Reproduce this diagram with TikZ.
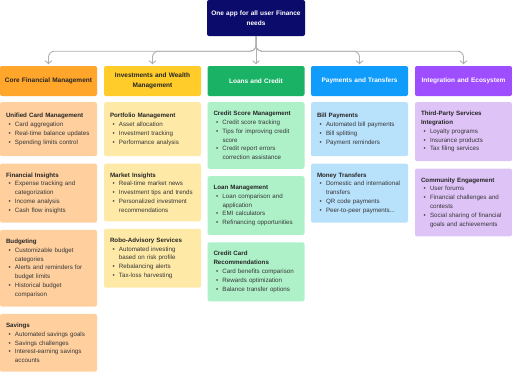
\documentclass[tikz,border=0pt]{standalone}
\usepackage{fontspec}
\setmainfont{Liberation Sans}
\usetikzlibrary{arrows.meta, positioning}

\definecolor{rootblue}{HTML}{0B0B6B}
\definecolor{coreor}{HTML}{FFA62B}
\definecolor{corelt}{HTML}{FFCF9E}
\definecolor{invye}{HTML}{FFCC2A}
\definecolor{invlt}{HTML}{FFE9A6}
\definecolor{loangr}{HTML}{1AB265}
\definecolor{loanlt}{HTML}{AEF1C9}
\definecolor{paybl}{HTML}{109CFA}
\definecolor{paylt}{HTML}{B8E1FC}
\definecolor{intpu}{HTML}{9E4DFF}
\definecolor{intlt}{HTML}{DEC3F7}
\definecolor{conngray}{HTML}{B0B0B0}
\definecolor{leaftext}{HTML}{363636}

% title and bullet lines inside a leaf box
\newcommand{\ttl}[1]{{\bfseries\color{black!85}#1}}
\newcommand{\itm}[1]{\par\hangindent=9pt\hangafter=1\noindent\makebox[9pt][l]{\hspace{2.5pt}\textbullet}#1\par}
\newcommand{\nl}{\hfil\break}

\tikzset{
  rootbox/.style={fill=rootblue, text=white, rounded corners=2pt, minimum width=98pt,
    minimum height=36pt, text width=90pt, align=center, inner sep=0pt,
    font=\fontsize{6.5}{9.5}\selectfont\bfseries},
  cat/.style={fill=#1, rounded corners=2pt, minimum width=97pt, minimum height=30pt,
    text width=88pt, align=center, inner sep=0pt, font=\fontsize{6.5}{9.5}\selectfont\bfseries},
  leaf/.style={fill=#1, rounded corners=2pt, text width=85pt, inner xsep=6pt,
    inner ysep=9pt, minimum height=54pt, align=left, text=leaftext, anchor=north,
    font=\fontsize{6.2}{8.8}\selectfont},
  conn/.style={draw=conngray, line width=0.9pt, rounded corners=6pt,
    -{Straight Barb[length=3pt,width=6.5pt]}, shorten >=1.5pt},
}

\begin{document}
\begin{tikzpicture}[x=1pt,y=-1pt]
  \useasboundingbox (0,0) rectangle (512,373);

  \node[rootbox] (app) at (256,18) {One app for all user Finance\\needs};

  \node[cat=coreor, text=black!85] (core) at (48.5,81) {Core Financial Management};
  \node[cat=invye, text=black!85] (inv) at (152.5,81) {Investments and Wealth\\Management};
  \node[cat=loangr, text=white] (loan) at (256,81) {Loans and Credit};
  \node[cat=paybl, text=white] (pay) at (359.5,81) {Payments and Transfers};
  \node[cat=intpu, text=white] (integ) at (463.5,81) {Integration and Ecosystem};

  \draw[conn] (app.south) -- ++(0,15) -| (core.north);
  \draw[conn] (app.south) -- ++(0,15) -| (inv.north);
  \draw[conn] (app.south) -- (loan.north);
  \draw[conn] (app.south) -- ++(0,15) -| (pay.north);
  \draw[conn] (app.south) -- ++(0,15) -| (integ.north);

  % core column
  \node[leaf=corelt] (card) at (48.5,102) {\ttl{Unified Card Management}
    \itm{Card aggregation}\itm{Real-time balance updates}\itm{Spending limits control}};
  \node[leaf=corelt, below=7pt of card] (fins) {\ttl{Financial Insights}
    \itm{Expense tracking and\nl categorization}\itm{Income analysis}\itm{Cash flow insights}};
  \node[leaf=corelt, below=7pt of fins] (budget) {\ttl{Budgeting}
    \itm{Customizable budget\nl categories}\itm{Alerts and reminders for\nl budget limits}
    \itm{Historical budget\nl comparison}};
  \node[leaf=corelt, below=7pt of budget] (save) {\ttl{Savings}
    \itm{Automated savings goals}\itm{Savings challenges}
    \itm{Interest-earning savings\nl accounts}};

  % investments column
  \node[leaf=invlt] (port) at (152.5,102) {\ttl{Portfolio Management}
    \itm{Asset allocation}\itm{Investment tracking}\itm{Performance analysis}};
  \node[leaf=invlt, below=7pt of port] (mkt) {\ttl{Market Insights}
    \itm{Real-time market news}\itm{Investment tips and trends}
    \itm{Personalized investment\nl recommendations}};
  \node[leaf=invlt, below=7pt of mkt] (robo) {\ttl{Robo-Advisory Services}
    \itm{Automated investing\nl based on risk profile}\itm{Rebalancing alerts}
    \itm{Tax-loss harvesting}};

  % loans column
  \node[leaf=loanlt] (score) at (256,102) {\ttl{Credit Score Management}
    \itm{Credit score tracking}\itm{Tips for improving credit\nl score}
    \itm{Credit report errors\nl correction assistance}};
  \node[leaf=loanlt, below=7pt of score] (lmgmt) {\ttl{Loan Management}
    \itm{Loan comparison and\nl application}\itm{EMI calculators}
    \itm{Refinancing opportunities}};
  \node[leaf=loanlt, below=7pt of lmgmt] (ccard) {\ttl{Credit Card\\Recommendations}
    \itm{Card benefits comparison}\itm{Rewards optimization}
    \itm{Balance transfer options}};

  % payments column
  \node[leaf=paylt] (bill) at (359.5,102) {\ttl{Bill Payments}
    \itm{Automated bill payments}\itm{Bill splitting}\itm{Payment reminders}};
  \node[leaf=paylt, below=7pt of bill] (money) {\ttl{Money Transfers}
    \itm{Domestic and international\nl transfers}\itm{QR code payments}
    \itm{Peer-to-peer payments...}};

  % integration column
  \node[leaf=intlt] (third) at (463.5,102) {\ttl{Third-Party Services\\Integration}
    \itm{Loyalty programs}\itm{Insurance products}\itm{Tax filing services}};
  \node[leaf=intlt, below=7pt of third] (comm) {\ttl{Community Engagement}
    \itm{User forums}\itm{Financial challenges and\nl contests}
    \itm{Social sharing of financial\nl goals and achievements}};
\end{tikzpicture}
\end{document}
